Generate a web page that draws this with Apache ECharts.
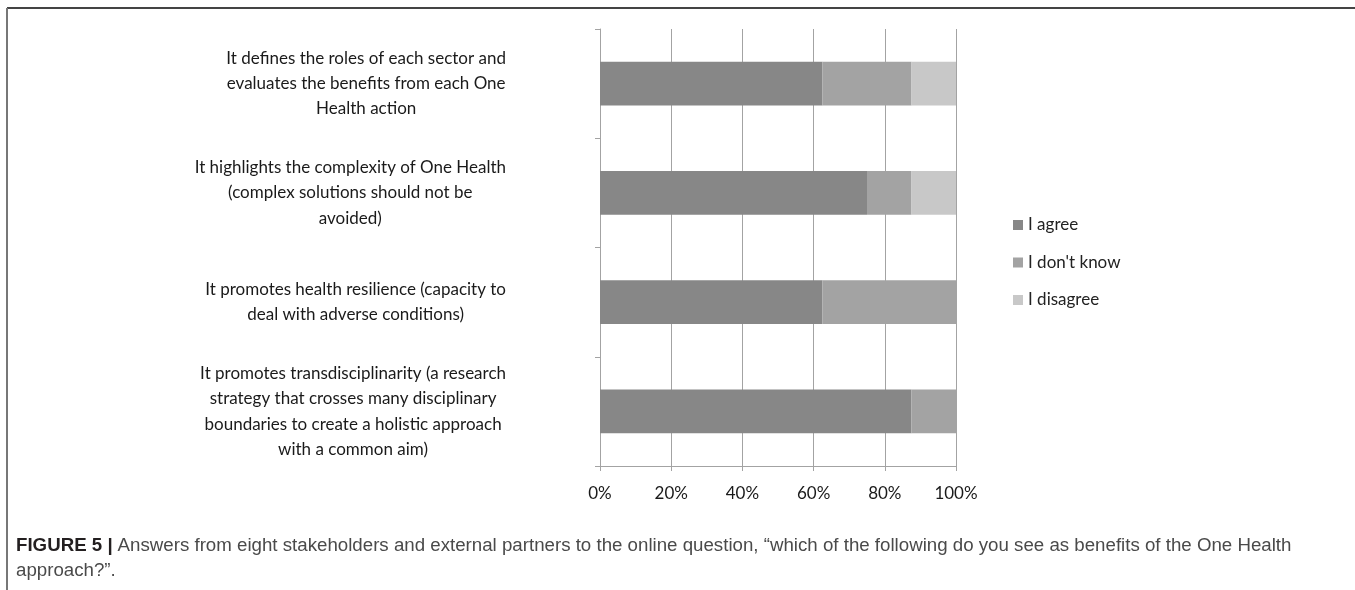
<!DOCTYPE html>
<html>
<head>
<meta charset="utf-8">
<script src="https://cdn.jsdelivr.net/npm/echarts@6/dist/echarts.min.js"></script>
<style>
  html, body { margin: 0; padding: 0; background: #fff; }
  #chart { width: 1355px; height: 590px; }
</style>
</head>
<body>
<div id="chart"></div>
<script>
const categories = [
  "It defines the roles of each sector and\nevaluates the benefits from each One\nHealth action",
  "It highlights the complexity of One Health\n(complex solutions should not be\navoided)",
  "It promotes health resilience (capacity to\ndeal with adverse conditions)",
  "It promotes transdisciplinarity (a research\nstrategy that crosses many disciplinary\nboundaries to create a holistic approach\nwith a common aim)"
];
const seriesNames = ["I agree", "I don't know", "I disagree"];
const agree = [62.5, 75, 62.5, 87.5];
const dontKnow = [25, 12.5, 37.5, 12.5];
const disagree = [12.5, 12.5, 0, 0];
const colors = ["#878787", "#a3a3a3", "#c8c8c8"];

const chartFont = "Lato";
const captionFont = "Liberation Sans";
const axisGrey = "#a3a3a3";

const chart = echarts.init(document.getElementById("chart"));

function wrapLines(text) {
  return text.split("\n").map((line) => "{c|" + line + "}").join("\n");
}

function barSeries(name, data, color) {
  return {
    name: name,
    type: "bar",
    stack: "total",
    barWidth: "40%",
    data: data,
    itemStyle: { color: color },
    animation: false
  };
}

chart.setOption({
  animation: false,
  color: colors,
  title: {
    left: 11,
    top: 528,
    text: "{b|FIGURE 5 |} {r|Answers from eight stakeholders and external partners to the online question, \u201cwhich of the following do you see as benefits of the One Health}\n{r|approach?\u201d.}",
    textStyle: {
      lineHeight: 25,
      rich: {
        b: { fontFamily: captionFont, fontSize: 18.7, fontWeight: "bold", color: "#231f20", lineHeight: 25 },
        r: { fontFamily: captionFont, fontSize: 18.7, fontWeight: "normal", color: "#4a4a4a", lineHeight: 25 }
      }
    }
  },
  legend: {
    orient: "vertical",
    left: 1008,
    top: 210,
    itemWidth: 10,
    itemHeight: 10,
    itemGap: 17.5,
    icon: "rect",
    data: seriesNames,
    textStyle: { fontFamily: chartFont, fontSize: 17, color: "#222", lineHeight: 20 }
  },
  grid: {
    left: 600,
    right: 399,
    top: 29,
    bottom: 124
  },
  xAxis: {
    type: "value",
    min: 0,
    max: 100,
    interval: 20,
    axisLine: { show: true, lineStyle: { color: axisGrey } },
    axisTick: { show: true, length: 5, lineStyle: { color: axisGrey } },
    splitLine: { show: true, lineStyle: { color: axisGrey, width: 1 } },
    axisLabel: {
      formatter: "{value}%",
      margin: 19,
      fontFamily: chartFont,
      fontSize: 17,
      color: "#1a1a1a"
    }
  },
  yAxis: {
    type: "category",
    inverse: true,
    data: categories,
    axisLine: { show: true, lineStyle: { color: axisGrey } },
    axisTick: { show: true, length: 5, lineStyle: { color: axisGrey } },
    splitLine: { show: false },
    axisLabel: {
      align: "right",
      margin: 94,
      formatter: wrapLines,
      rich: {
        c: { align: "center", fontFamily: chartFont, fontSize: 17, lineHeight: 25.3, color: "#1a1a1a" }
      }
    }
  },
  graphic: [
    { type: "line", shape: { x1: 7, y1: 8, x2: 1355, y2: 8 }, style: { stroke: "#444", lineWidth: 2 } },
    { type: "line", shape: { x1: 7, y1: 8, x2: 7, y2: 590 }, style: { stroke: "#777", lineWidth: 2 } }
  ],
  series: [
    barSeries(seriesNames[0], agree, colors[0]),
    barSeries(seriesNames[1], dontKnow, colors[1]),
    barSeries(seriesNames[2], disagree, colors[2])
  ]
});
</script>
</body>
</html>
